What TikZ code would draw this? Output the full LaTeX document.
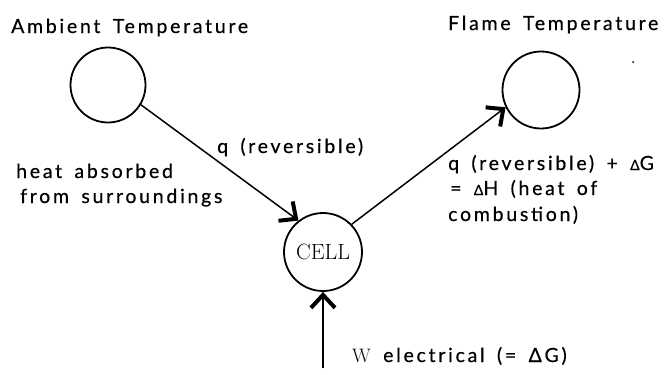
\documentclass[tikz,border=0pt]{standalone}
\usepackage{fontspec}
\usetikzlibrary{arrows.meta}
\newfontfamily\labfont{Lato}[LetterSpace=14, WordSpace=1.6, FakeBold=0.5]
\tikzset{
  circ/.style={circle, draw, line width=1.8bp, inner sep=0pt},
  lab/.style={anchor=base west, inner sep=0pt, font=\labfont\fontsize{19.5bp}{22bp}\selectfont},
  arr/.style={line width=1.5bp, -{Straight Barb[length=13bp, width=24bp, line width=4bp]}},
}
\begin{document}
\begin{tikzpicture}[x=1bp, y=-1bp]
\useasboundingbox (0,0) rectangle (668,374);
\node[circ, minimum size=75bp] (amb) at (108,85) {};
\node[circ, minimum size=77bp] (flame) at (541,90) {};
\node[circ, minimum size=78bp, font=\rmfamily\fontsize{22bp}{24bp}\selectfont] (cell) at (323,252) {CELL};
\node[lab] (tamb) at (11,33) {Ambient Temperature};
\node[lab] (tflame) at (448,30) {Flame Temperature};
\node[lab] (tq) at (217,153) {q (reversible)};
\node[lab] (th1) at (16,178) {heat absorbed};
\node[lab] (th2) at (20,203) {from surroundings};
\node[lab] (tr1) at (448,170) {q (reversible) + {\fontsize{14bp}{15bp}\selectfont Δ}G};
\node[lab] (tr2) at (450,195) {= {\fontsize{14bp}{15bp}\selectfont Δ}H (heat of};
\node[lab] (tr3) at (448,221) {combustion)};
\node[lab] (tw) at (352,362) {{\rmfamily W} electrical (= ΔG)};
\coordinate (wbot) at (323,368);
\draw[arr] (amb.-31) -- (cell.128);
\draw[arr] (cell.44) -- (flame.206);
\draw[arr] (wbot) -- (cell.south);
\fill (633,62) circle (1bp);
\end{tikzpicture}
\end{document}
